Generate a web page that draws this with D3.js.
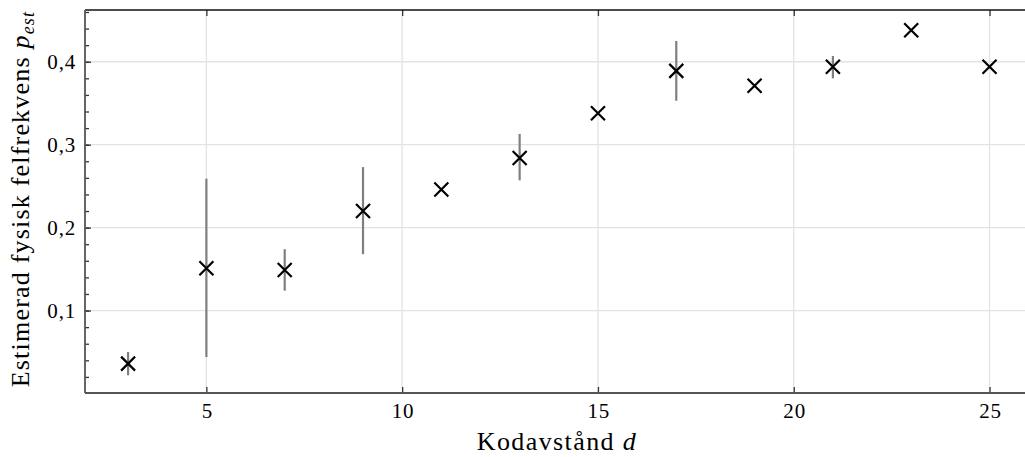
<!DOCTYPE html>
<html>
<head>
<meta charset="utf-8">
<script src="https://cdn.jsdelivr.net/npm/d3@7"></script>
<style>
  html, body { margin: 0; padding: 0; background: #fff; }
  svg { display: block; }
  text { font-family: "Liberation Serif", "DejaVu Serif", serif; fill: #000; }
</style>
</head>
<body>
<svg id="chart" width="1025" height="457"></svg>
<script>
// Code distance d and estimated physical error rate
const distances = [3, 5, 7, 9, 11, 13, 15, 17, 19, 21, 23, 25];
const pEst      = [0.036, 0.151, 0.149, 0.220, 0.246, 0.284, 0.338, 0.389, 0.371, 0.394, 0.438, 0.394];
const errLow    = [0.022, 0.044, 0.124, 0.168, 0.246, 0.257, 0.338, 0.353, 0.371, 0.380, 0.438, 0.394];
const errHigh   = [0.050, 0.259, 0.174, 0.273, 0.246, 0.313, 0.338, 0.425, 0.371, 0.407, 0.438, 0.394];

const xTicks = [5, 10, 15, 20, 25];
const yTicks = [0.1, 0.2, 0.3, 0.4];
const yMinorTicks = d3.range(0.02, 0.461, 0.02);

const xLabel = "Kodavstånd ";
const yLabel = "Estimerad fysisk felfrekvens ";

const svg = d3.select("#chart");
const pLeft = 85, pTop = 10, pBottom = 393, pRight = 1032.6;

const x = d3.scaleLinear().domain([1.9, 26.1]).range([pLeft, pRight]);
const y = d3.scaleLinear().domain([0.0006, 0.4624]).range([pBottom, pTop]);

const fmt = v => d3.format(".1f")(v).replace(".", ",");

// grid
const grid = svg.append("g").attr("stroke", "#e3e3e3").attr("stroke-width", 1.3);
grid.selectAll(".gx").data(xTicks).join("line")
  .attr("x1", d => x(d)).attr("x2", d => x(d)).attr("y1", pTop).attr("y2", pBottom);
grid.selectAll(".gy").data(yTicks).join("line")
  .attr("y1", d => y(d)).attr("y2", d => y(d)).attr("x1", pLeft).attr("x2", pRight);

// axes with inward ticks
const xAxisB = d3.axisBottom(x).tickValues(xTicks).tickSizeInner(-6).tickSizeOuter(0).tickPadding(10).tickFormat(d3.format("d"));
const gxB = svg.append("g").attr("transform", `translate(0,${pBottom})`).call(xAxisB);
const xAxisT = d3.axisTop(x).tickValues(xTicks).tickSizeInner(-6).tickSizeOuter(0).tickFormat("");
const gxT = svg.append("g").attr("transform", `translate(0,${pTop})`).call(xAxisT);

const yAxisMinor = d3.axisLeft(y).tickValues(yMinorTicks).tickSizeInner(-4).tickSizeOuter(0).tickFormat("");
const gyMinor = svg.append("g").attr("transform", `translate(${pLeft},0)`).call(yAxisMinor);
const yAxis = d3.axisLeft(y).tickValues(yTicks).tickSizeInner(-6).tickSizeOuter(0).tickPadding(9).tickFormat(fmt);
const gy = svg.append("g").attr("transform", `translate(${pLeft},0)`).call(yAxis);

[gxB, gxT, gyMinor, gy].forEach(g => {
  g.select(".domain").remove();
  g.selectAll(".tick line").attr("stroke", "#333").attr("stroke-width", 1.3);
  g.selectAll(".tick text").style("font-size", "21px").style("letter-spacing", "0.8px").attr("fill", "#000");
});
gxB.selectAll(".tick text").attr("dx", "0.4px");

// spines
svg.append("line").attr("x1", pLeft).attr("x2", pRight).attr("y1", pTop).attr("y2", pTop)
  .attr("stroke", "#111").attr("stroke-width", 1.4);
svg.append("line").attr("x1", pLeft).attr("x2", pRight).attr("y1", pBottom).attr("y2", pBottom)
  .attr("stroke", "#555").attr("stroke-width", 1.8);
svg.append("line").attr("x1", pLeft).attr("x2", pLeft).attr("y1", pTop).attr("y2", pBottom)
  .attr("stroke", "#555").attr("stroke-width", 1.8);

// error bars
svg.append("g").selectAll("line").data(distances).join("line")
  .attr("x1", d => x(d)).attr("x2", d => x(d))
  .attr("y1", (d, i) => y(errLow[i])).attr("y2", (d, i) => y(errHigh[i]))
  .attr("stroke", "#7f7f7f").attr("stroke-width", 2.2);

// x markers
const s = 7;
const marks = svg.append("g").attr("stroke", "#000").attr("stroke-width", 2.2).attr("fill", "none");
marks.selectAll("path").data(distances).join("path")
  .attr("d", (d, i) => {
    const cx = x(d), cy = y(pEst[i]);
    return `M${cx - s},${cy - s}L${cx + s},${cy + s}M${cx - s},${cy + s}L${cx + s},${cy - s}`;
  });

// axis labels
const xl = svg.append("text").attr("x", 557).attr("y", 450).attr("text-anchor", "middle")
  .style("font-size", "26px").style("letter-spacing", "1.4px");
xl.append("tspan").text(xLabel);
xl.append("tspan").style("font-style", "italic").text("d");

const yl = svg.append("text").attr("transform", "translate(29,199) rotate(-90)")
  .attr("text-anchor", "middle").style("font-size", "26px").style("letter-spacing", "1.2px");
yl.append("tspan").text(yLabel);
yl.append("tspan").style("font-style", "italic").text("p");
yl.append("tspan").style("font-style", "italic").style("font-size", "18px").attr("dy", 5).text("est");
</script>
</body>
</html>
